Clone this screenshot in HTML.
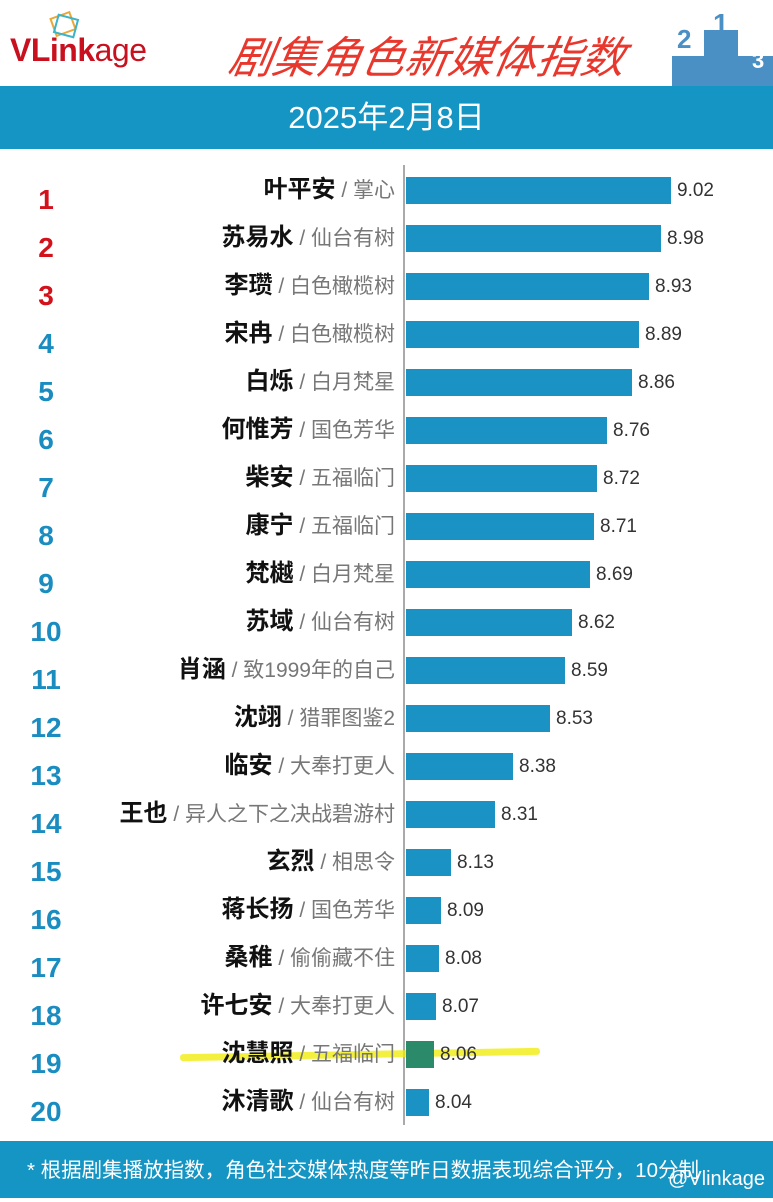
<!DOCTYPE html>
<html><head><meta charset="utf-8"><style>
*{margin:0;padding:0;box-sizing:border-box}
body{width:773px;height:1202px;background:#fff;position:relative;overflow:hidden;font-family:"Liberation Sans","Noto Sans CJK SC",sans-serif}
.a{position:absolute}
.rk{position:absolute;left:22px;width:48px;text-align:center;font-weight:bold;font-size:28px;color:#1a8cc0;line-height:30px}
.rk.r{color:#d2111b}
.nm{position:absolute;right:378px;white-space:nowrap;line-height:30px;text-align:right}
.nm b{font-size:24px;color:#111}
.nm span{font-size:21px;color:#777}
.bar{position:absolute;left:406px;height:27px;background:#1a93c4}
.v{position:absolute;font-size:19px;color:#333;line-height:27px}
</style></head><body>
<div class="a" style="left:52px;top:14px;width:22px;height:20px;border:2px solid #e9a93a;transform:rotate(-20deg)"></div>
<div class="a" style="left:55px;top:16px;width:22px;height:20px;border:2px solid #3bb3c8;transform:rotate(15deg)"></div>
<div class="a" style="left:10px;top:32px;font-size:32px;font-weight:bold;color:#c8101e;letter-spacing:-0.5px">VLink<span style="font-weight:normal">age</span></div>
<div class="a" style="left:230px;top:24px;font-size:44px;font-style:italic;color:#e8372c;font-family:'Noto Sans CJK SC',sans-serif;transform:skewX(-10deg);line-height:60px;white-space:nowrap">剧集角色新媒体指数</div>
<div class="a" style="left:672px;top:56px;width:101px;height:30px;background:#4a90c4"></div>
<div class="a" style="left:704px;top:30px;width:34px;height:30px;background:#4a90c4"></div>
<div class="a" style="left:677px;top:24px;font-size:26px;font-weight:bold;color:#4a90c4">2</div>
<div class="a" style="left:713px;top:8px;font-size:28px;font-weight:bold;color:#4a90c4">1</div>
<div class="a" style="left:752px;top:48px;font-size:22px;font-weight:bold;color:#fff">3</div>
<div class="a" style="left:0;top:86px;width:773px;height:63px;background:#1595c4;color:#fff;font-size:31px;text-align:center;line-height:63px">2025年2月8日</div>
<div class="a" style="left:403px;top:165px;width:2px;height:960px;background:#aaa"></div>
<div class="a" style="left:180px;top:1051px;width:360px;height:7px;background:rgba(240,235,0,0.75);border-radius:3px;transform:rotate(-1deg)"></div>

<div class="rk r" style="top:185px">1</div><div class="nm" style="top:175px"><b>叶平安</b><span> / 掌心</span></div><div class="bar" style="top:177px;width:265px"></div><div class="v" style="top:177px;left:677px">9.02</div>
<div class="rk r" style="top:233px">2</div><div class="nm" style="top:223px"><b>苏易水</b><span> / 仙台有树</span></div><div class="bar" style="top:225px;width:255px"></div><div class="v" style="top:225px;left:667px">8.98</div>
<div class="rk r" style="top:281px">3</div><div class="nm" style="top:271px"><b>李瓒</b><span> / 白色橄榄树</span></div><div class="bar" style="top:273px;width:243px"></div><div class="v" style="top:273px;left:655px">8.93</div>
<div class="rk" style="top:329px">4</div><div class="nm" style="top:319px"><b>宋冉</b><span> / 白色橄榄树</span></div><div class="bar" style="top:321px;width:233px"></div><div class="v" style="top:321px;left:645px">8.89</div>
<div class="rk" style="top:377px">5</div><div class="nm" style="top:367px"><b>白烁</b><span> / 白月梵星</span></div><div class="bar" style="top:369px;width:226px"></div><div class="v" style="top:369px;left:638px">8.86</div>
<div class="rk" style="top:425px">6</div><div class="nm" style="top:415px"><b>何惟芳</b><span> / 国色芳华</span></div><div class="bar" style="top:417px;width:201px"></div><div class="v" style="top:417px;left:613px">8.76</div>
<div class="rk" style="top:473px">7</div><div class="nm" style="top:463px"><b>柴安</b><span> / 五福临门</span></div><div class="bar" style="top:465px;width:191px"></div><div class="v" style="top:465px;left:603px">8.72</div>
<div class="rk" style="top:521px">8</div><div class="nm" style="top:511px"><b>康宁</b><span> / 五福临门</span></div><div class="bar" style="top:513px;width:188px"></div><div class="v" style="top:513px;left:600px">8.71</div>
<div class="rk" style="top:569px">9</div><div class="nm" style="top:559px"><b>梵樾</b><span> / 白月梵星</span></div><div class="bar" style="top:561px;width:184px"></div><div class="v" style="top:561px;left:596px">8.69</div>
<div class="rk" style="top:617px">10</div><div class="nm" style="top:607px"><b>苏域</b><span> / 仙台有树</span></div><div class="bar" style="top:609px;width:166px"></div><div class="v" style="top:609px;left:578px">8.62</div>
<div class="rk" style="top:665px">11</div><div class="nm" style="top:655px"><b>肖涵</b><span> / 致1999年的自己</span></div><div class="bar" style="top:657px;width:159px"></div><div class="v" style="top:657px;left:571px">8.59</div>
<div class="rk" style="top:713px">12</div><div class="nm" style="top:703px"><b>沈翊</b><span> / 猎罪图鉴2</span></div><div class="bar" style="top:705px;width:144px"></div><div class="v" style="top:705px;left:556px">8.53</div>
<div class="rk" style="top:761px">13</div><div class="nm" style="top:751px"><b>临安</b><span> / 大奉打更人</span></div><div class="bar" style="top:753px;width:107px"></div><div class="v" style="top:753px;left:519px">8.38</div>
<div class="rk" style="top:809px">14</div><div class="nm" style="top:799px"><b>王也</b><span> / 异人之下之决战碧游村</span></div><div class="bar" style="top:801px;width:89px"></div><div class="v" style="top:801px;left:501px">8.31</div>
<div class="rk" style="top:857px">15</div><div class="nm" style="top:847px"><b>玄烈</b><span> / 相思令</span></div><div class="bar" style="top:849px;width:45px"></div><div class="v" style="top:849px;left:457px">8.13</div>
<div class="rk" style="top:905px">16</div><div class="nm" style="top:895px"><b>蒋长扬</b><span> / 国色芳华</span></div><div class="bar" style="top:897px;width:35px"></div><div class="v" style="top:897px;left:447px">8.09</div>
<div class="rk" style="top:953px">17</div><div class="nm" style="top:943px"><b>桑稚</b><span> / 偷偷藏不住</span></div><div class="bar" style="top:945px;width:33px"></div><div class="v" style="top:945px;left:445px">8.08</div>
<div class="rk" style="top:1001px">18</div><div class="nm" style="top:991px"><b>许七安</b><span> / 大奉打更人</span></div><div class="bar" style="top:993px;width:30px"></div><div class="v" style="top:993px;left:442px">8.07</div>
<div class="rk" style="top:1049px">19</div><div class="nm" style="top:1039px"><b>沈慧照</b><span> / 五福临门</span></div><div class="bar" style="top:1041px;width:28px;background:#2a8a6a"></div><div class="v" style="top:1041px;left:440px">8.06</div>
<div class="rk" style="top:1097px">20</div><div class="nm" style="top:1087px"><b>沐清歌</b><span> / 仙台有树</span></div><div class="bar" style="top:1089px;width:23px"></div><div class="v" style="top:1089px;left:435px">8.04</div>

<div class="a" style="left:0;top:1141px;width:773px;height:57px;background:#1595c4;color:#fff;font-size:20.5px;line-height:60px;padding-left:27px;white-space:nowrap">* 根据剧集播放指数，角色社交媒体热度等昨日数据表现综合评分，10分制</div>
<div class="a" style="left:668px;top:1168px;font-size:20px;color:#fff;white-space:nowrap">@Vlinkage</div>
</body></html>
